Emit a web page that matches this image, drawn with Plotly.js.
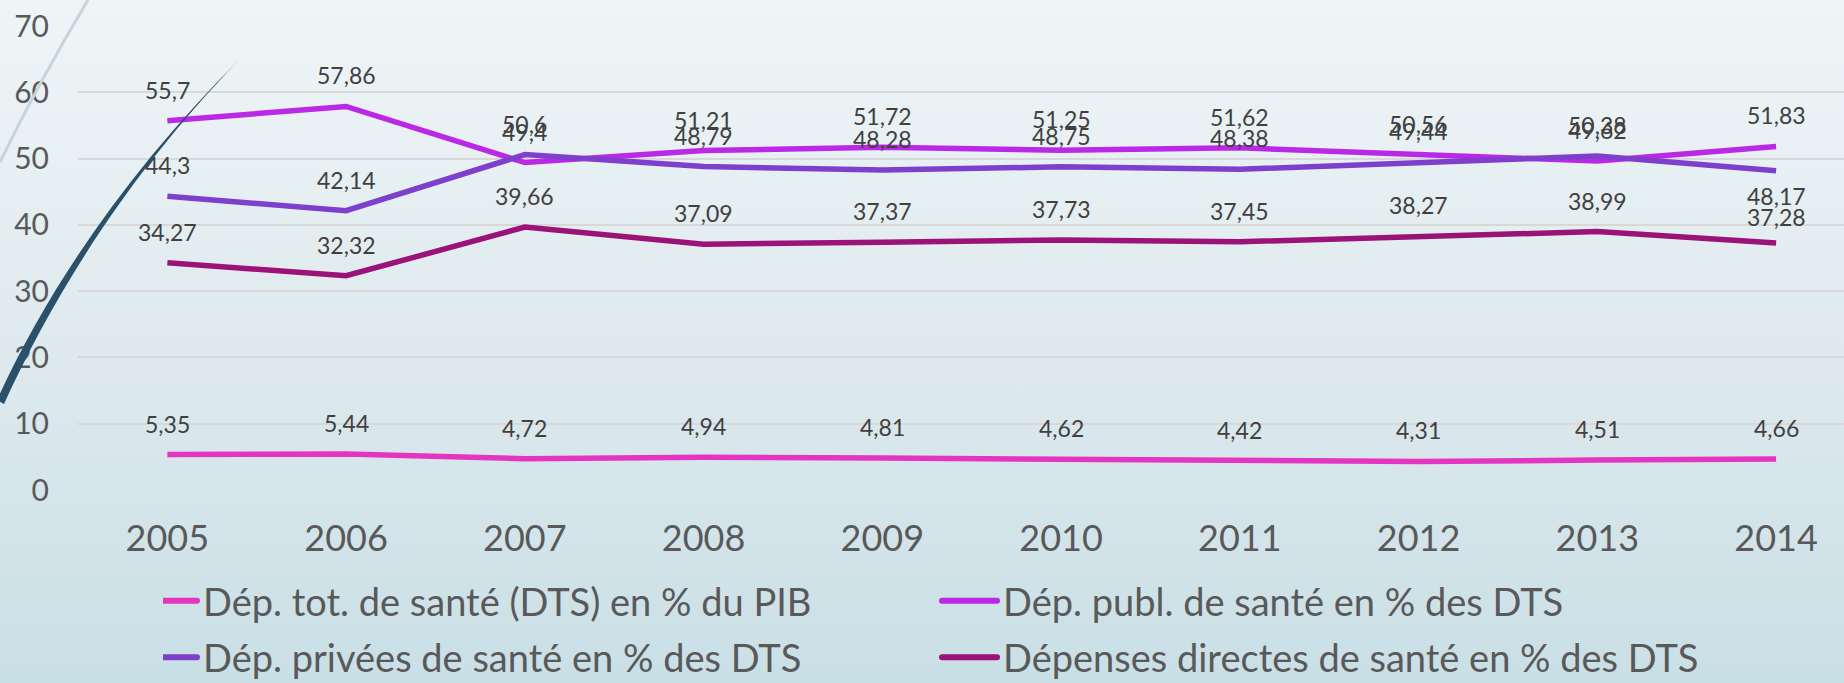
<!DOCTYPE html>
<html>
<head>
<meta charset="utf-8">
<script src="https://cdn.plot.ly/plotly-3.0.1.min.js"></script>
<style>
  html, body { margin: 0; padding: 0; }
  body { width: 1844px; height: 683px; overflow: hidden;
         background: linear-gradient(to bottom, #eff5f7 0%, #dde9ed 55%, #c9dfe6 100%); }
  #wrap { position: relative; width: 1844px; height: 683px; }
  #chart { position: absolute; left: 0; top: 0; width: 1844px; height: 683px; }
  #deco { position: absolute; left: 0; top: 0; pointer-events: none; }
  #err { position: absolute; left: 300px; top: 300px; color: red; font-size: 20px; }
</style>
</head>
<body>
<div id="wrap">
  <div id="chart"></div>
  <svg id="deco" width="1844" height="683" viewBox="0 0 1844 683">
    <path d="M0,162 Q40,80 88,0" fill="none" stroke="#c7d4da" stroke-width="3"/>
    <path d="M-3,400 C47,290 128,170 240,59 C130,172 54,294 4,404 Z" fill="#2b5069"/>
  </svg>
  <div id="err"></div>
</div>
<script>
const years = ["2005","2006","2007","2008","2009","2010","2011","2012","2013","2014"];
const seriesNames = [
  "Dép. tot. de santé (DTS) en % du PIB",
  "Dép. publ. de santé en % des DTS",
  "Dép. privées de santé en % des DTS",
  "Dépenses directes de santé en % des DTS"
];
const dtsPib   = [5.35, 5.44, 4.72, 4.94, 4.81, 4.62, 4.42, 4.31, 4.51, 4.66];
const depPubl  = [55.7, 57.86, 49.4, 51.21, 51.72, 51.25, 51.62, 50.56, 49.62, 51.83];
const depPriv  = [44.3, 42.14, 50.6, 48.79, 48.28, 48.75, 48.38, 49.44, 50.38, 48.17];
const depDir   = [34.27, 32.32, 39.66, 37.09, 37.37, 37.73, 37.45, 38.27, 38.99, 37.28];
const yTicks = [0, 10, 20, 30, 40, 50, 60, 70];

const allSeries = [dtsPib, depPubl, depPriv, depDir];
const colors = ["#e535c0", "#bb29e6", "#7d3fcc", "#9b1278"];
const FONT = "Lato, 'Open Sans', sans-serif";

const traces = allSeries.map((vals, k) => ({
  type: "scatter", mode: "lines", x: years, y: vals, name: seriesNames[k],
  line: { color: colors[k], width: 5.5 }, hoverinfo: "skip"
}));

// label offsets (px above the point); a couple of labels in 2014 sit differently
function labelShift(k, i) {
  if (k === 2 && i === 9) return -25;
  if (k === 3 && i === 9) return 26;
  return 31;
}
const annotations = [];
allSeries.forEach((vals, k) => {
  vals.forEach((v, i) => {
    annotations.push({
      x: i, y: v, xref: "x", yref: "y",
      text: String(v).replace(".", ","), showarrow: false,
      yshift: labelShift(k, i), xanchor: "center", yanchor: "middle",
      font: { family: FONT, size: 23, color: "#404040" }
    });
  });
});

const layout = {
  width: 1844, height: 683,
  margin: { l: 78, r: 0, t: 26, b: 193 },
  paper_bgcolor: "rgba(0,0,0,0)", plot_bgcolor: "rgba(0,0,0,0)",
  font: { family: FONT, color: "#595959" },
  showlegend: true,
  xaxis: {
    type: "category", range: [-0.5, 9.38], showgrid: false, zeroline: false,
    showline: false, ticks: "", tickfont: { size: 36, color: "#595959" },
    ticklabelstandoff: 24, fixedrange: true
  },
  yaxis: {
    range: [0, 70], tickvals: yTicks, showgrid: true, gridcolor: "#d8d8d8", gridwidth: 2,
    zeroline: false, showline: false, ticks: "", tickfont: { size: 30, color: "#595959" },
    ticklabelstandoff: 28, fixedrange: true
  },
  legend: {
    orientation: "h", xref: "container", yref: "container",
    x: 0.0884, xanchor: "left", y: 0.163, yanchor: "top",
    entrywidth: 755, font: { size: 38, color: "#595959" },
    bgcolor: "rgba(0,0,0,0)", traceorder: "normal"
  },
  annotations: annotations
};

function styleLegend() {
  const gd = document.getElementById("chart");
  gd.querySelectorAll(".legend .legendlines path").forEach(p => {
    p.setAttribute("d", "M-21,0h55");
    p.style.strokeLinecap = "round";
    p.style.strokeWidth = "6px";
  });
  // slightly more space between the two legend rows (second row only)
  const items = [];
  gd.querySelectorAll(".legend .traces").forEach(t => {
    const m = /translate\(([-\d.]+),\s*([-\d.]+)\)/.exec(t.getAttribute("transform") || "");
    if (m) items.push({ t: t, x: parseFloat(m[1]), y: parseFloat(m[2]) });
  });
  if (items.length) {
    const minY = Math.min.apply(null, items.map(o => o.y));
    items.forEach(o => {
      const dy = o.y > minY + 10 ? 2 : -2;
      o.t.setAttribute("transform", "translate(" + o.x + "," + (o.y + dy) + ")");
    });
  }
}

try {
  Plotly.newPlot("chart", traces, layout, { displayModeBar: false, staticPlot: true })
    .then(styleLegend)
    .catch(e => { document.getElementById("err").textContent = String(e); });
} catch (e) {
  document.getElementById("err").textContent = String(e);
}
</script>
</body>
</html>
